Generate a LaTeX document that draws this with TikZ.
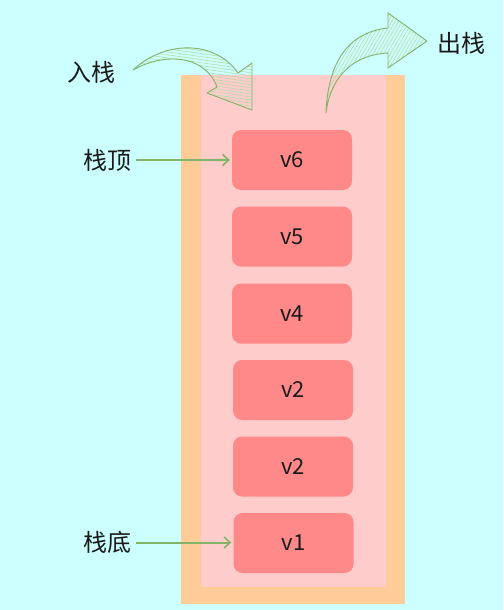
\documentclass[tikz,border=0pt]{standalone}
\usepackage{fontspec}
\setmainfont{Noto Sans CJK SC}
\usetikzlibrary{arrows.meta,patterns.meta}
\definecolor{bg}{HTML}{CCFFFF}
\definecolor{outerc}{HTML}{FFCC99}
\definecolor{innerc}{HTML}{FFCCCC}
\definecolor{boxc}{HTML}{FF8888}
\definecolor{grn}{HTML}{82B366}
\definecolor{hatch}{HTML}{B5DCA5}
\definecolor{txt}{HTML}{1A1A1A}
\begin{document}
\begin{tikzpicture}[x=1pt,y=-1pt,
  stackbox/.style={draw=none,fill=boxc,rounded corners=9pt,minimum width=120pt,minimum height=60pt,text=txt,font=\fontsize{22}{26}\selectfont},
  lab/.style={text=txt,font=\fontsize{24}{28}\selectfont,inner sep=2pt},
  labarrow/.style={draw=grn,line width=2pt,shorten <=3pt,shorten >=2pt,-{Straight Barb[length=6pt,width=11pt,line width=1.6pt]}},
  bigarrow/.style={draw=grn,line width=0.9pt,line join=round,pattern color=hatch}]
\fill[bg] (0,0) rectangle (503,610);
\useasboundingbox (0,0) rectangle (503,610);
\fill[outerc] (181,75) rectangle (405,604);
\fill[innerc] (201,75) rectangle (386,587);
\node[stackbox] (v6) at (292,160) {v6};
\node[stackbox] (v5) at (292,236.5) {v5};
\node[stackbox] (v4) at (292,313.5) {v4};
\node[stackbox] (v2a) at (293,390) {v2};
\node[stackbox] (v2b) at (293,466.5) {v2};
\node[stackbox] (v1) at (293.5,543) {v1};
\node[lab] (in) at (91,72) {入栈};
\node[lab] (out) at (461,43) {出栈};
\node[lab] (top) at (107,160) {栈顶};
\node[lab] (bot) at (107,542.5) {栈底};
\draw[labarrow] (top) -- (v6);
\draw[labarrow] (bot) -- (v1.west |- bot);
% push arrow
\draw[bigarrow,pattern={Lines[angle=-8,distance=3pt,line width=0.6pt]}]
  (133,70) .. controls (165,40) and (215,40) .. (238,73)
  -- (252,63) -- (252,110) -- (207,93) -- (217,87)
  .. controls (205,55) and (165,52) .. cycle;
% pop arrow
\draw[bigarrow,pattern={Lines[angle=60,distance=3pt,line width=0.6pt]}]
  (326,113) .. controls (328,60) and (350,32) .. (388,28)
  -- (388,13) -- (427,41) -- (388,68) -- (388,53)
  .. controls (350,55) and (330,80) .. cycle;
\end{tikzpicture}
\end{document}
